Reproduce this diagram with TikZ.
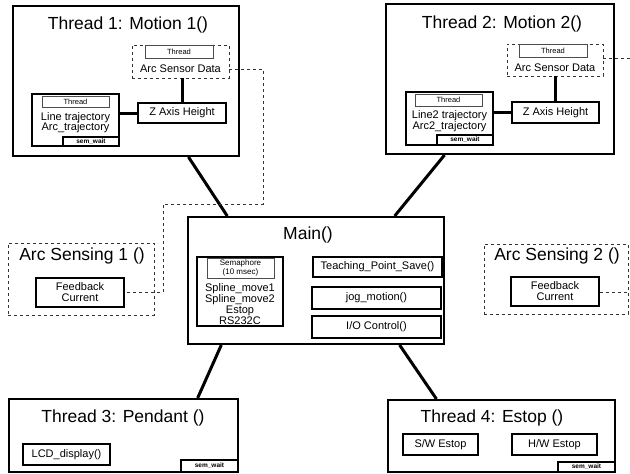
\documentclass[tikz,border=0pt]{standalone}
\usepackage{fontspec}
\setmainfont{Liberation Sans}
\usetikzlibrary{calc}
\tikzset{
  bigbox/.style={draw=black, line width=2pt, fill=white, inner sep=0pt},
  innerbox/.style={draw=black, line width=1.8pt, fill=white, inner sep=0pt, font=\fontsize{11}{11}\selectfont},
  tagbox/.style={draw=black!70, line width=0.9pt, fill=white, inner sep=0pt, font=\fontsize{7.5}{7.5}\selectfont},
  waitbox/.style={draw=black, line width=1.2pt, fill=white, inner sep=0pt, font=\fontsize{6.5}{6.5}\selectfont\bfseries},
  dashbox/.style={draw=black!80, dashed, line width=0.8pt, inner sep=0pt},
  titletxt/.style={inner sep=0pt, font=\fontsize{17.5}{17.5}\selectfont},
  astitle/.style={inner sep=0pt, font=\fontsize{17.5}{17.5}\selectfont},
  smalltxt/.style={inner sep=0pt, align=center, font=\fontsize{11}{11}\selectfont},
  link/.style={draw=black, line width=3pt},
  dashlink/.style={draw=black!80, dashed, line width=0.8pt},
}
\begin{document}
\begin{tikzpicture}[x=1pt,y=-1pt]
\useasboundingbox[fill=white] (0,0) rectangle (630,474);

% ---------------- Thread 1
\node[bigbox, minimum width=226pt, minimum height=150pt] (t1) at (126,81) {};
\node[titletxt] (t1t) at (128,25) {Thread 1: Motion 1()};
\node[dashbox, minimum width=97pt, minimum height=33pt] (asd1) at (180.5,61.5) {};
\node[tagbox, minimum width=68pt, minimum height=13pt] (th1a) at (179,51.5) {Thread};
\node[smalltxt] (asdt1) at (180.5,69) {Arc Sensor Data};
\node[innerbox, minimum width=87pt, minimum height=52pt] (lb1) at (75.5,120) {};
\node[tagbox, minimum width=67pt, minimum height=11pt] (th1b) at (75.5,101.5) {Thread};
\node[smalltxt] (lt1) at (75.5,122.5) {Line trajectory\\[-0.5pt]Arc\_trajectory};
\node[waitbox, minimum width=56pt, minimum height=9pt] (sw1) at (91,141.5) {sem\_wait};
\node[innerbox, minimum width=88pt, minimum height=20pt] (z1) at (182,113) {Z Axis Height};
\draw[link] (z1.west) -- (z1.west -| lb1.east);
\draw[link] (asd1.south -| z1.north) -- (z1.north);

% ---------------- Thread 2
\node[bigbox, minimum width=228pt, minimum height=150pt] (t2) at (500,79) {};
\node[titletxt] (t2t) at (502,24) {Thread 2: Motion 2()};
\node[dashbox, minimum width=96pt, minimum height=32pt] (asd2) at (555,60) {};
\node[tagbox, minimum width=68pt, minimum height=13pt] (th2a) at (553,51) {Thread};
\node[smalltxt] (asdt2) at (555,67.5) {Arc Sensor Data};
\node[innerbox, minimum width=87pt, minimum height=53pt] (lb2) at (449.5,118.5) {};
\node[tagbox, minimum width=67pt, minimum height=12pt] (th2b) at (448.5,100) {Thread};
\node[smalltxt] (lt2) at (449.5,121) {Line2 trajectory\\[-0.5pt]Arc2\_trajectory};
\node[waitbox, minimum width=56pt, minimum height=10pt] (sw2) at (465,140) {sem\_wait};
\node[innerbox, minimum width=87pt, minimum height=21pt] (z2) at (555.5,112.5) {Z Axis Height};
\draw[link] (z2.west) -- (z2.west -| lb2.east);
\draw[link] (asd2.south -| z2.north) -- (z2.north);

% ---------------- Main
\node[bigbox, minimum width=256pt, minimum height=127pt] (main) at (316,280.5) {};
\node[titletxt] (maint) at (308,235) {Main()};
\node[innerbox, minimum width=86pt, minimum height=69pt] (sem) at (240,291.5) {};
\node[tagbox, minimum width=67pt, minimum height=20pt, align=center, font=\fontsize{8}{9}\selectfont] (semt) at (240.5,268) {Semaphore\\(10 msec)};
\node[smalltxt, font=\fontsize{11}{11}\selectfont] (semtxt) at (240,304) {Spline\_move1\\Spline\_move2\\Estop\\RS232C};
\node[innerbox, minimum width=129pt, minimum height=20pt] (tps) at (377.5,267) {Teaching\_Point\_Save()};
\node[innerbox, minimum width=129pt, minimum height=22pt] (jog) at (376.5,298) {jog\_motion()};
\node[innerbox, minimum width=129pt, minimum height=22pt] (io) at (376.5,327) {I/O Control()};

% ---------------- Arc Sensing 1 / 2
\node[dashbox, minimum width=146pt, minimum height=72pt] (as1) at (81,279) {};
\node[astitle] (as1t) at (82,256) {Arc Sensing 1 ()};
\node[innerbox, minimum width=88pt, minimum height=29pt, align=center] (fb1) at (80,292.5) {Feedback\\Current};
\node[dashbox, minimum width=144pt, minimum height=70pt] (as2) at (556,279) {};
\node[astitle] (as2t) at (557,256) {Arc Sensing 2 ()};
\node[innerbox, minimum width=88pt, minimum height=29pt, align=center] (fb2) at (555,291.5) {Feedback\\Current};

% ---------------- Thread 3
\node[bigbox, minimum width=229pt, minimum height=73pt] (t3) at (123.5,435.5) {};
\node[titletxt] (t3t) at (123,418) {Thread 3: Pendant ()};
\node[innerbox, minimum width=87pt, minimum height=21pt] (lcd) at (66.5,454.5) {LCD\_display()};
\node[waitbox, minimum width=57pt, minimum height=12pt] (sw3) at (209.5,466) {sem\_wait};

% ---------------- Thread 4
\node[bigbox, minimum width=227pt, minimum height=72pt] (t4) at (501.5,436) {};
\node[titletxt] (t4t) at (492,418) {Thread 4: Estop ()};
\node[innerbox, minimum width=75pt, minimum height=21pt] (swe) at (440.5,444.5) {S/W Estop};
\node[innerbox, minimum width=85pt, minimum height=21pt] (hwe) at (554.5,444.5) {H/W Estop};
\node[waitbox, minimum width=57pt, minimum height=10pt] (sw4) at (586.5,467) {sem\_wait};

% ---------------- thick connectors
\draw[link] ($(t1.south west)!0.774!(t1.south east)$) -- ($(main.north west)!0.156!(main.north east)$);
\draw[link] ($(t2.south west)!0.259!(t2.south east)$) -- ($(main.north west)!0.805!(main.north east)$);
\draw[link] ($(main.south west)!0.133!(main.south east)$) -- ($(t3.north west)!0.821!(t3.north east)$);
\draw[link] ($(main.south west)!0.824!(main.south east)$) -- ($(t4.north west)!0.216!(t4.north east)$);

% ---------------- dashed connectors
\coordinate (d1a) at (263,204);
\coordinate (d1b) at (163,204);
\draw[dashlink] (asd1.east |- asdt1) -| (d1a) -- (d1b) |- (fb1.east);
\coordinate (e2) at (630,58);
\draw[dashlink] (asd2.east |- e2) -- (e2);
\coordinate (e3) at (630,292);
\draw[dashlink] (fb2.east |- e3) -- (e3);
\end{tikzpicture}
\end{document}
